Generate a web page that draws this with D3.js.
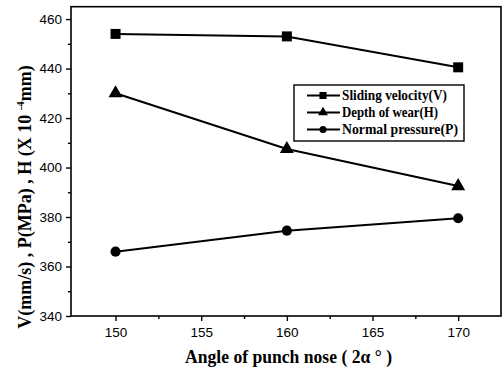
<!DOCTYPE html>
<html>
<head>
<meta charset="utf-8">
<script src="https://cdn.jsdelivr.net/npm/d3@7"></script>
<style>
  html, body { margin: 0; padding: 0; background: #fff; }
  svg { display: block; }
</style>
</head>
<body>
<svg id="chart" width="504" height="372"></svg>
<script>
// Punch nose angle (2α, degrees)
const angles = [150, 160, 170];
// Series values
const slidingVelocity = [454, 453, 440.5];   // V (mm/s)
const depthOfWear = [430, 407.5, 392.5];     // H (x10^-4 mm)
const normalPressure = [366, 374.5, 379.5];  // P (MPa)
// Axis ticks
const xTicks = [150, 155, 160, 165, 170];
const yTicks = [340, 360, 380, 400, 420, 440, 460];
const yMinorTicks = [350, 370, 390, 410, 430, 450];
const xMinorTicks = [152.5, 157.5, 162.5, 167.5];
const seriesNames = ["Sliding velocity(V)", "Depth of wear(H)", "Normal pressure(P)"];

const svg = d3.select("#chart");
const plotLeft = 71, plotRight = 501, plotTop = 6.7, plotBottom = 316;

const x = d3.scaleLinear().domain([147.4, 172.5]).range([plotLeft, plotRight]);
const y = d3.scaleLinear().domain([340, 465]).range([plotBottom, plotTop]);

// Frame
svg.append("rect")
  .attr("x", plotLeft).attr("y", plotTop)
  .attr("width", plotRight - plotLeft).attr("height", plotBottom - plotTop)
  .attr("fill", "none").attr("stroke", "#000").attr("stroke-width", 1.6);

// Axes
const tickFont = "'Liberation Sans', Arial, sans-serif";
const xAxis = svg.append("g").attr("transform", `translate(0,${plotBottom})`)
  .call(d3.axisBottom(x).tickValues(xTicks).tickSize(5).tickPadding(6).tickFormat(d3.format("d")));
const xMinor = svg.append("g").attr("transform", `translate(0,${plotBottom})`)
  .call(d3.axisBottom(x).tickValues(xMinorTicks).tickSize(3).tickFormat(""));
const yAxis = svg.append("g").attr("transform", `translate(${plotLeft},0)`)
  .call(d3.axisLeft(y).tickValues(yTicks).tickSize(5).tickPadding(4).tickFormat(d3.format("d")));
const yMinor = svg.append("g").attr("transform", `translate(${plotLeft},0)`)
  .call(d3.axisLeft(y).tickValues(yMinorTicks).tickSize(3).tickFormat(""));

[xAxis, xMinor, yAxis, yMinor].forEach(g => {
  g.select(".domain").remove();
  g.selectAll("line").attr("stroke", "#000").attr("stroke-width", 1.4);
  g.selectAll("text").attr("fill", "#000")
    .style("font-family", tickFont).style("font-size", "13.5px");
});

// Axis titles
const titleFont = "'Liberation Serif', 'Times New Roman', serif";
svg.append("text")
  .attr("x", 288.5).attr("y", 363)
  .attr("text-anchor", "middle")
  .attr("textLength", 207).attr("lengthAdjust", "spacingAndGlyphs")
  .style("font-family", titleFont).style("font-weight", "bold").style("font-size", "18px")
  .text("Angle of punch nose ( 2α ° )");

const yt = svg.append("text")
  .attr("transform", "translate(31,197) rotate(-90)")
  .attr("text-anchor", "middle")
  .style("font-family", titleFont).style("font-weight", "bold").style("font-size", "18px");
yt.append("tspan").text("V(mm/s) , P(MPa) , H (X 10 ");
yt.append("tspan").attr("dy", -7).style("font-size", "11px").text("-4");
yt.append("tspan").attr("dy", 7).text("mm)");

// Series
const series = [
  { name: seriesNames[0], values: slidingVelocity, symbol: d3.symbolSquare, size: 100, labelWidth: 105 },
  { name: seriesNames[1], values: depthOfWear, symbol: d3.symbolTriangle, size: 85, labelWidth: 96 },
  { name: seriesNames[2], values: normalPressure, symbol: d3.symbolCircle, size: 80, labelWidth: 116 }
];

const line = d3.line().x((d, i) => x(angles[i])).y(d => y(d));

series.forEach(s => {
  svg.append("path")
    .attr("d", line(s.values))
    .attr("fill", "none").attr("stroke", "#000").attr("stroke-width", 2);
  svg.selectAll(null).data(s.values).enter().append("path")
    .attr("d", d3.symbol().type(s.symbol).size(s.size))
    .attr("transform", (d, i) => `translate(${x(angles[i])},${y(d)})`)
    .attr("fill", "#000");
});

// Legend
const lg = svg.append("g");
lg.append("rect")
  .attr("x", 294).attr("y", 85).attr("width", 170).attr("height", 56)
  .attr("fill", "#fff").attr("stroke", "#000").attr("stroke-width", 1.4);
series.forEach((s, i) => {
  const ly = 95.5 + i * 17;
  lg.append("line").attr("x1", 307).attr("x2", 340).attr("y1", ly).attr("y2", ly)
    .attr("stroke", "#000").attr("stroke-width", 2);
  lg.append("path")
    .attr("d", d3.symbol().type(s.symbol).size(s.size * 0.5))
    .attr("transform", `translate(323,${ly})`).attr("fill", "#000");
  lg.append("text")
    .attr("x", 342).attr("y", ly + 4.5)
    .attr("textLength", s.labelWidth).attr("lengthAdjust", "spacingAndGlyphs")
    .style("font-family", titleFont).style("font-weight", "bold").style("font-size", "14.5px")
    .text(s.name);
});
</script>
</body>
</html>
